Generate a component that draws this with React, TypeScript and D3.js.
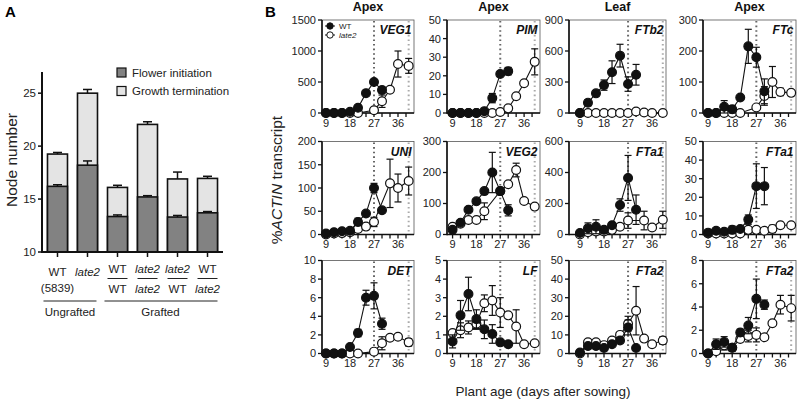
import { useEffect, useRef } from 'react';
import * as d3 from 'd3';

type Pt = [number, number] | null; // [mean, s.e.]

// ---------- panel A : node number ----------
const groups = ['WT (5839)', 'late2', 'WT/WT', 'late2/late2', 'late2/WT', 'WT/late2'];
const labelTop = ['WT', 'late2', 'WT', 'late2', 'late2', 'WT'];
const labelBottom = ['(5839)', '', 'WT', 'late2', 'WT', 'late2'];
const flowerInit = [16.2, 18.2, 13.35, 15.2, 13.3, 13.7];
const flowerErr = [0.15, 0.4, 0.15, 0.12, 0.15, 0.12];
const growthTerm = [19.25, 25.0, 16.1, 22.05, 16.9, 16.95];
const growthErr = [0.15, 0.35, 0.2, 0.25, 0.65, 0.2];
const nodeTicks = [10, 15, 20, 25];

// ---------- panel B : %ACTIN transcript ----------
const days = [9, 12, 15, 18, 21, 24, 27, 30, 33, 36, 40];
const dayTicks = [9, 18, 27, 36];

const veg1Wt: Pt[] = [[0, 0], [0, 0], [0, 0], [20, 0], [85, 0], [320, 0], [500, 40], [370, 50], null, null, null];
const veg1Late2: Pt[] = [[0, 0], [0, 0], [0, 0], [0, 0], [0, 0], null, [45, 0], [190, 100], [375, 30], [790, 210], [760, 120]];
const pimWt: Pt[] = [[0, 0], [0, 0], [0, 0], [0, 0], [1, 0], [8, 2.5], [21, 0], [22.5, 2], null, null, null];
const pimLate2: Pt[] = [[0, 0], [0, 0], [0, 0], [0, 0], [0, 0], [0, 0], [0.5, 0], [2.5, 0], [9, 0], [16, 0], [27.5, 7]];
const ftb2Wt: Pt[] = [[0, 0], [100, 30], [190, 0], [270, 50], [395, 110], [555, 110], [280, 70], [370, 100], null, null, null];
const ftb2Late2: Pt[] = [[0, 0], [0, 0], [0, 0], [0, 0], [0, 0], [0, 0], [0, 0], [15, 0], [5, 0], [0, 0], [0, 0]];
const ftcWt: Pt[] = [[0, 0], [0, 0], [20, 20], [12, 12], [50, 0], [215, 55], [180, 32], [70, 40], null, null, null];
const ftcLate2: Pt[] = [[0, 0], [0, 0], [0, 0], [0, 0], [0, 0], null, [18, 0], [55, 30], [100, 50], [68, 12], [65, 0]];

const uniWt: Pt[] = [[2, 0], [5, 0], [7, 0], [8, 5], [27, 8], [45, 0], [100, 10], [52, 0], null, null, null];
const uniLate2: Pt[] = [[0, 0], [2, 0], [3, 0], [5, 0], [12, 0], [17, 0], [27, 10], null, [110, 52], [100, 30], [115, 30]];
const veg2Wt: Pt[] = [[15, 0], [38, 0], [80, 0], [107, 0], [140, 0], [200, 65], [140, 0], [78, 18], null, null, null];
const veg2Late2: Pt[] = [[25, 0], [35, 0], [47, 0], [47, 0], [75, 27], null, [140, 0], [162, 0], [208, 22], [108, 0], [90, 0]];
const fta1LeafWt: Pt[] = [[10, 0], [40, 35], [50, 45], [30, 20], [60, 0], [190, 40], [365, 145], [160, 95], null, null, null];
const fta1LeafLate2: Pt[] = [[0, 0], [15, 0], [20, 0], [20, 0], [30, 0], [50, 0], [90, 50], null, [90, 60], [45, 0], [95, 55]];
const fta1ApexWt: Pt[] = [[1, 0], [2, 1.5], [1.5, 0], [2.5, 2], [3, 0], [8, 2.5], [26, 12], [26, 10], null, null, null];
const fta1ApexLate2: Pt[] = [[0.5, 0], [0.5, 0], [0.5, 0], [0.5, 0], [0.5, 0], [2.5, 0], [2.5, 1.5], [2, 0], [3, 2], [5, 1.5], [5, 0]];

const detWt: Pt[] = [[0, 0], [0, 0], [0, 0], [0.7, 0], [2.2, 0.4], [6, 0.8], [6.2, 1.4], [3.2, 0.6], null, null, null];
const detLate2: Pt[] = [[0, 0], [0, 0], [0, 0], [0, 0], [0, 0], null, [0.2, 0], [1.1, 0.7], [1.7, 0], [1.8, 0], [1.2, 0.4]];
const lfWt: Pt[] = [[0.65, 0.35], [2.05, 0.8], [3.2, 0.9], [1.85, 0.5], [1.3, 0.5], [1.05, 0.5], [0.6, 0], [0.5, 0], null, null, null];
const lfLate2: Pt[] = [[1.1, 0], [1.25, 0.4], [1.4, 0.35], [1.6, 0.3], [2.7, 0.45], [2.85, 0.8], [2.2, 0.8], [2.05, 0], [1.45, 0.9], [0.5, 0], [0.55, 0]];
const fta2LeafWt: Pt[] = [[0.5, 0], [4, 0], [4, 0], [3, 0], [5, 0], [7, 0], [14, 4], [3, 0], null, null, null];
const fta2LeafLate2: Pt[] = [[0, 0], [6, 0], [6, 0], [4.5, 0], [7, 0], [10, 0], [16, 4], [23, 13], [8, 0], [5, 0], [7, 2]];
const fta2ApexWt: Pt[] = [[0, 0], [0.8, 0.45], [1, 0.45], [0.5, 0.3], [1.8, 0.3], [2.4, 0.7], [4.7, 1.7], [4.2, 0.4], null, null, null];
const fta2ApexLate2: Pt[] = [[0, 0], [0.2, 0], [0.7, 0.4], [0.5, 0], [1.25, 0], [1.5, 0.5], [1.6, 0.6], [1.4, 0], [2.6, 0], [4.2, 0.8], [3.9, 1.1]];

const tissues = ['Apex', 'Apex', 'Leaf', 'Apex'];

interface Panel { gene: string; max: number; step: number; wt: Pt[]; late2: Pt[] }

const panels: Panel[][] = [
  [
    { gene: 'VEG1', max: 1500, step: 500, wt: veg1Wt, late2: veg1Late2 },
    { gene: 'PIM', max: 50, step: 10, wt: pimWt, late2: pimLate2 },
    { gene: 'FTb2', max: 900, step: 300, wt: ftb2Wt, late2: ftb2Late2 },
    { gene: 'FTc', max: 300, step: 100, wt: ftcWt, late2: ftcLate2 },
  ],
  [
    { gene: 'UNI', max: 200, step: 50, wt: uniWt, late2: uniLate2 },
    { gene: 'VEG2', max: 300, step: 100, wt: veg2Wt, late2: veg2Late2 },
    { gene: 'FTa1', max: 600, step: 200, wt: fta1LeafWt, late2: fta1LeafLate2 },
    { gene: 'FTa1', max: 50, step: 10, wt: fta1ApexWt, late2: fta1ApexLate2 },
  ],
  [
    { gene: 'DET', max: 10, step: 2, wt: detWt, late2: detLate2 },
    { gene: 'LF', max: 5, step: 1, wt: lfWt, late2: lfLate2 },
    { gene: 'FTa2', max: 50, step: 10, wt: fta2LeafWt, late2: fta2LeafLate2 },
    { gene: 'FTa2', max: 8, step: 2, wt: fta2ApexWt, late2: fta2ApexLate2 },
  ],
];

const FONT = 'Liberation Sans, Arial, Helvetica, sans-serif';

type Sel = d3.Selection<SVGSVGElement, unknown, null, undefined>;

function drawA(svg: Sel) {
  const g = svg.append('g');
  const y = d3.scaleLinear().domain([10, 27]).range([252, 72]);
  const x = d3.scaleBand().domain(groups).range([42, 223]).paddingInner(1 / 3).paddingOuter(0.183);
  const bw = x.bandwidth();

  g.append('text').attr('x', 5).attr('y', 17).attr('font-size', 15).attr('font-weight', 'bold').text('A');

  // bars
  groups.forEach((k, i) => {
    const x0 = x(k)!;
    g.append('rect').attr('x', x0).attr('y', y(growthTerm[i])).attr('width', bw)
      .attr('height', y(10) - y(growthTerm[i])).attr('fill', '#e4e4e4').attr('stroke', '#111').attr('stroke-width', 1.6);
    g.append('rect').attr('x', x0).attr('y', y(flowerInit[i])).attr('width', bw)
      .attr('height', y(10) - y(flowerInit[i])).attr('fill', '#828282').attr('stroke', '#111').attr('stroke-width', 1.6);
    const cx = x0 + bw / 2;
    [[growthTerm[i], growthErr[i]], [flowerInit[i], flowerErr[i]]].forEach(([v, e]) => {
      g.append('line').attr('x1', cx).attr('x2', cx).attr('y1', y(v)).attr('y2', y(v + e)).attr('stroke', '#111').attr('stroke-width', 1.5);
      g.append('line').attr('x1', cx - 4.5).attr('x2', cx + 4.5).attr('y1', y(v + e)).attr('y2', y(v + e)).attr('stroke', '#111').attr('stroke-width', 1.5);
    });
  });

  // axes
  g.append('line').attr('x1', 42).attr('x2', 42).attr('y1', 72).attr('y2', 253).attr('stroke', '#111').attr('stroke-width', 2);
  g.append('line').attr('x1', 41).attr('x2', 223).attr('y1', 252).attr('y2', 252).attr('stroke', '#111').attr('stroke-width', 2);
  nodeTicks.forEach(t => {
    g.append('line').attr('x1', 38).attr('x2', 42).attr('y1', y(t)).attr('y2', y(t)).attr('stroke', '#111').attr('stroke-width', 1.5);
    g.append('text').attr('x', 36).attr('y', y(t)).attr('dy', '0.35em').attr('text-anchor', 'end')
      .attr('font-size', 11.5).attr('fill', '#222').text(t);
  });
  groups.forEach(k => {
    const cx = x(k)! + bw / 2;
    g.append('line').attr('x1', cx).attr('x2', cx).attr('y1', 252).attr('y2', 257).attr('stroke', '#111').attr('stroke-width', 1.5);
  });

  // category labels
  groups.forEach((k, i) => {
    const cx = x(k)! + bw / 2;
    const grafted = i >= 2;
    const top = labelTop[i];
    g.append('text').attr('x', cx).attr('y', grafted ? 273 : 276).attr('text-anchor', 'middle').attr('font-size', 11.5)
      .attr('font-style', top === 'late2' ? 'italic' : 'normal').attr('fill', '#222').text(top);
    const bot = labelBottom[i];
    if (bot) {
      g.append('text').attr('x', cx).attr('y', grafted ? 293 : 292).attr('text-anchor', 'middle').attr('font-size', 11.5)
        .attr('font-style', bot === 'late2' ? 'italic' : 'normal').attr('fill', '#222').text(bot);
    }
    if (grafted) {
      g.append('line').attr('x1', x(k)!).attr('x2', x(k)! + bw).attr('y1', 278.5).attr('y2', 278.5).attr('stroke', '#222').attr('stroke-width', 1);
    }
  });
  const brackets: [number, number, string][] = [[0, 1, 'Ungrafted'], [2, 5, 'Grafted']];
  brackets.forEach(([a, b, name]) => {
    const x1 = x(groups[a])! - 4;
    const x2 = x(groups[b])! + bw + (a === 0 ? -1 : 0);
    g.append('line').attr('x1', a === 0 ? x1 : x1 + 1).attr('x2', x2).attr('y1', 301).attr('y2', 301).attr('stroke', '#222').attr('stroke-width', 1);
    g.append('text').attr('x', (x1 + x2) / 2).attr('y', 316).attr('text-anchor', 'middle').attr('font-size', 11.5).attr('fill', '#222').text(name);
  });

  // legend
  const leg = [['#828282', 'Flower initiation'], ['#e4e4e4', 'Growth termination']];
  leg.forEach(([c, t], i) => {
    g.append('rect').attr('x', 117).attr('y', 68 + i * 18.5).attr('width', 9).attr('height', 9)
      .attr('fill', c).attr('stroke', '#111').attr('stroke-width', 1.2);
    g.append('text').attr('x', 132).attr('y', 76.5 + i * 18.5).attr('font-size', 11.5).attr('fill', '#222').text(t);
  });

  g.append('text').attr('transform', 'translate(17,160) rotate(-90)').attr('text-anchor', 'middle')
    .attr('font-size', 15.5).attr('fill', '#222').text('Node number');
}

function drawB(svg: Sel) {
  const g = svg.append('g');
  const colX = [322, 447, 569, 703];
  const colW = [92, 93, 97, 93];
  const xDom: [number, number][] = [[7.5, 42], [6.9, 42], [4.9, 41.2], [7.1, 41.8]];
  const rowTop = [20, 141.5, 260.5];
  const H = 93;

  g.append('text').attr('x', 265).attr('y', 17).attr('font-size', 15).attr('font-weight', 'bold').text('B');

  tissues.forEach((t, c) => {
    g.append('text').attr('x', colX[c] + colW[c] / 2).attr('y', 11).attr('text-anchor', 'middle')
      .attr('font-size', 12.5).attr('font-weight', 'bold').attr('fill', '#111').text(t);
  });

  panels.forEach((row, r) => {
    row.forEach((p, c) => {
      const top = rowTop[r];
      const bottom = top + H;
      const x = d3.scaleLinear().domain(xDom[c]).range([colX[c], colX[c] + colW[c]]);
      const y = d3.scaleLinear().domain([0, p.max]).range([bottom, top]);
      const pg = g.append('g');

      pg.append('rect').attr('x', colX[c]).attr('y', top).attr('width', colW[c]).attr('height', H)
        .attr('fill', 'none').attr('stroke', '#555').attr('stroke-width', 0.8);

      // reference lines
      [[27, '#666'], [40, '#aaa']].forEach(([d, col]) => {
        pg.append('line').attr('x1', x(d as number)).attr('x2', x(d as number)).attr('y1', top + 1).attr('y2', bottom)
          .attr('stroke', col as string).attr('stroke-width', 2).attr('stroke-dasharray', '1.6,3');
      });

      // axes
      pg.append('line').attr('x1', colX[c]).attr('x2', colX[c]).attr('y1', top).attr('y2', bottom + 0.8)
        .attr('stroke', '#111').attr('stroke-width', 1.6);
      pg.append('line').attr('x1', colX[c]).attr('x2', colX[c] + colW[c]).attr('y1', bottom).attr('y2', bottom)
        .attr('stroke', '#111').attr('stroke-width', 1.6);
      d3.range(0, p.max + p.step / 2, p.step).forEach(v => {
        pg.append('line').attr('x1', colX[c] - 4).attr('x2', colX[c]).attr('y1', y(v)).attr('y2', y(v))
          .attr('stroke', '#111').attr('stroke-width', 1.3);
        pg.append('text').attr('x', colX[c] - 6).attr('y', y(v)).attr('dy', '0.36em').attr('text-anchor', 'end')
          .attr('font-size', 11).attr('fill', '#222').text(v);
      });
      d3.range(9, 40, 3).forEach(d => {
        pg.append('line').attr('x1', x(d)).attr('x2', x(d)).attr('y1', bottom).attr('y2', bottom + 4)
          .attr('stroke', '#111').attr('stroke-width', 1.3);
      });
      dayTicks.forEach(d => {
        pg.append('text').attr('x', x(d)).attr('y', bottom + 13.5).attr('text-anchor', 'middle')
          .attr('font-size', 11).attr('fill', '#222').text(d);
      });

      // series: late2 (open) first, WT (filled) on top
      const series: [Pt[], string][] = [[p.late2, '#fff'], [p.wt, '#111']];
      series.forEach(([vals, fill]) => {
        const pts = vals.map((v, i) => (v ? { d: days[i], m: v[0], e: v[1] } : null))
          .filter((v): v is { d: number; m: number; e: number } => v !== null);
        pts.filter(q => q.e > 0).forEach(q => {
          const cx = x(q.d);
          const lo = y(Math.max(0, q.m - q.e));
          const hi = y(q.m + q.e);
          pg.append('line').attr('x1', cx).attr('x2', cx).attr('y1', lo).attr('y2', hi).attr('stroke', '#111').attr('stroke-width', 1.2);
          [lo, hi].forEach(yy => pg.append('line').attr('x1', cx - 3.5).attr('x2', cx + 3.5).attr('y1', yy).attr('y2', yy)
            .attr('stroke', '#111').attr('stroke-width', 1.2));
        });
        const line = d3.line<{ d: number; m: number }>().x(q => x(q.d)).y(q => y(q.m));
        pg.append('path').datum(pts).attr('d', line).attr('fill', 'none').attr('stroke', '#111').attr('stroke-width', 1.1);
        pg.selectAll(null).data(pts).enter().append('circle')
          .attr('cx', q => x(q.d)).attr('cy', q => y(q.m)).attr('r', 4.4)
          .attr('fill', fill).attr('stroke', '#111').attr('stroke-width', 1.2);
      });

      pg.append('text').attr('x', colX[c] + colW[c] - 2.5).attr('y', top + 14).attr('text-anchor', 'end')
        .attr('font-size', 12).attr('font-weight', 'bold').attr('font-style', 'italic').attr('fill', '#111').text(p.gene);

      if (r === 0 && c === 0) {
        const lx = colX[c] + 8;
        [['#111', 'WT', 'normal'], ['#fff', 'late2', 'italic']].forEach(([f, t, st], i) => {
          const ly = top + 6 + i * 9;
          pg.append('line').attr('x1', lx - 5).attr('x2', lx + 5).attr('y1', ly).attr('y2', ly).attr('stroke', '#111').attr('stroke-width', 1);
          pg.append('circle').attr('cx', lx).attr('cy', ly).attr('r', 3.2).attr('fill', f).attr('stroke', '#111').attr('stroke-width', 1);
          pg.append('text').attr('x', lx + 9).attr('y', ly + 2.8).attr('font-size', 8).attr('font-style', st).attr('fill', '#222').text(t);
        });
      }
    });
  });

  const yl = g.append('text').attr('transform', 'translate(282,180) rotate(-90)').attr('text-anchor', 'middle')
    .attr('font-size', 15.5).attr('fill', '#222');
  yl.append('tspan').text('%');
  yl.append('tspan').attr('font-style', 'italic').text('ACTIN');
  yl.append('tspan').text(' transcript');

  g.append('text').attr('x', 543).attr('y', 396).attr('text-anchor', 'middle').attr('font-size', 13.5)
    .attr('fill', '#222').text('Plant age (days after sowing)');
}

export default function App() {
  const svgRef = useRef<SVGSVGElement>(null);

  useEffect(() => {
    if (!svgRef.current) return;
    document.body.style.margin = '0';
    const svg = d3.select(svgRef.current) as Sel;
    svg.selectAll('*').remove();
    drawA(svg);
    drawB(svg);
  }, []);

  return (
    <svg ref={svgRef} width={797} height={402}
      style={{ display: 'block', background: '#fff', fontFamily: FONT }} />
  );
}
